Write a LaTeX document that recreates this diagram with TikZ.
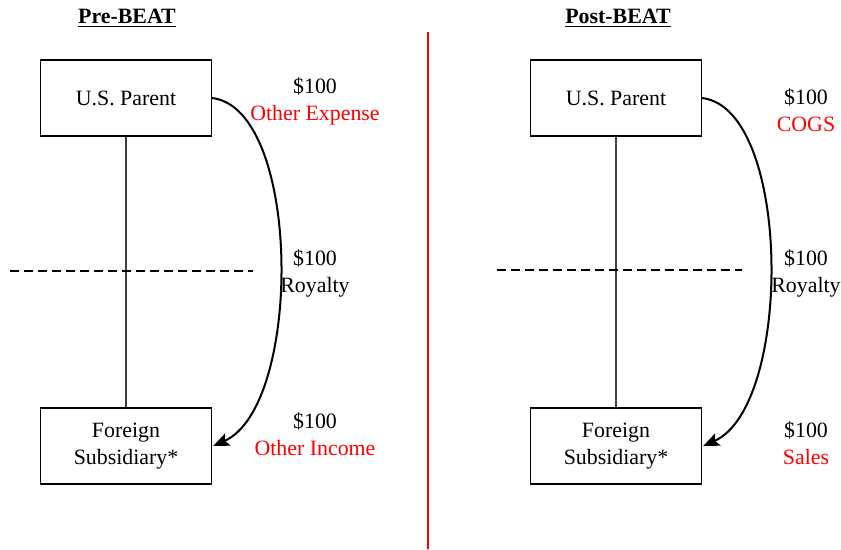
\documentclass[tikz,border=0pt]{standalone}
\usepackage{fontspec}
\setmainfont{Liberation Serif}
\usepackage{xcolor}
\usetikzlibrary{arrows.meta,positioning}
\tikzset{>=Stealth}
\tikzset{
  acct/.style={draw, line width=0.8pt, minimum width=128pt, minimum height=57pt,
    inner sep=0pt, align=center},
  amt/.style={align=center},
  flow/.style={-{Stealth[length=12pt,width=10pt,inset=2.5pt]}, line width=1.5pt},
  link/.style={draw=black!75, line width=0.8pt},
  split/.style={line width=2pt, dash pattern=on 7pt off 3.5pt}
}

\begin{document}
\begin{tikzpicture}[x=0.75pt, y=-0.75pt]
				\useasboundingbox (0,0) rectangle (841,549);
				\fontsize{16.4}{20.25}\selectfont
				% Pre-BEAT
				\node (T1) at (127,18) {\underline{\textbf{Pre-BEAT}}};
				\node[acct] (P1) at (126,98) {U.S. Parent};
				\node[acct] (F1) at (126,446) {Foreign\\Subsidiary*};
				\coordinate (D1a) at (10,271);
				\coordinate (D1b) at (253,271);
				\draw[link] (P1)--(F1);
				\draw[split] (D1a)--(D1b);
				\draw[flow] (P1.east) .. controls +(90,10) and +(90,-40) .. ([xshift=1pt]F1.east);
				\node[amt] (E1) at (315,101.5) {\$100\\\textcolor{red}{Other Expense}};
				\node[amt] (R1) at (315,273.5) {\$100\\Royalty};
				\node[amt] (I1) at (315,434) {\$100\\\textcolor{red}{Other Income}};
				% divider
				\coordinate (Ma) at (428,32);
				\coordinate (Mb) at (428,549);
				\draw[red, line width=2.2pt] (Ma)--(Mb);
				% Post-BEAT
				\node (T2) at (618,18) {\underline{\textbf{Post-BEAT}}};
				\node[acct] (P2) at (616,98) {U.S. Parent};
				\node[acct] (F2) at (616,446) {Foreign\\Subsidiary*};
				\coordinate (D2a) at (497,270);
				\coordinate (D2b) at (742,270);
				\draw[link] (P2)--(F2);
				\draw[split] (D2a)--(D2b);
				\draw[flow] (P2.east) .. controls +(90,10) and +(90,-40) .. ([xshift=1pt]F2.east);
				\node[amt] (E2) at (806,110) {\$100\\\textcolor{red}{COGS}};
				\node[amt] (R2) at (806,273.5) {\$100\\Royalty};
				\node[amt] (I2) at (806,443.5) {\$100\\\textcolor{red}{Sales}};
			\end{tikzpicture}
\end{document}
